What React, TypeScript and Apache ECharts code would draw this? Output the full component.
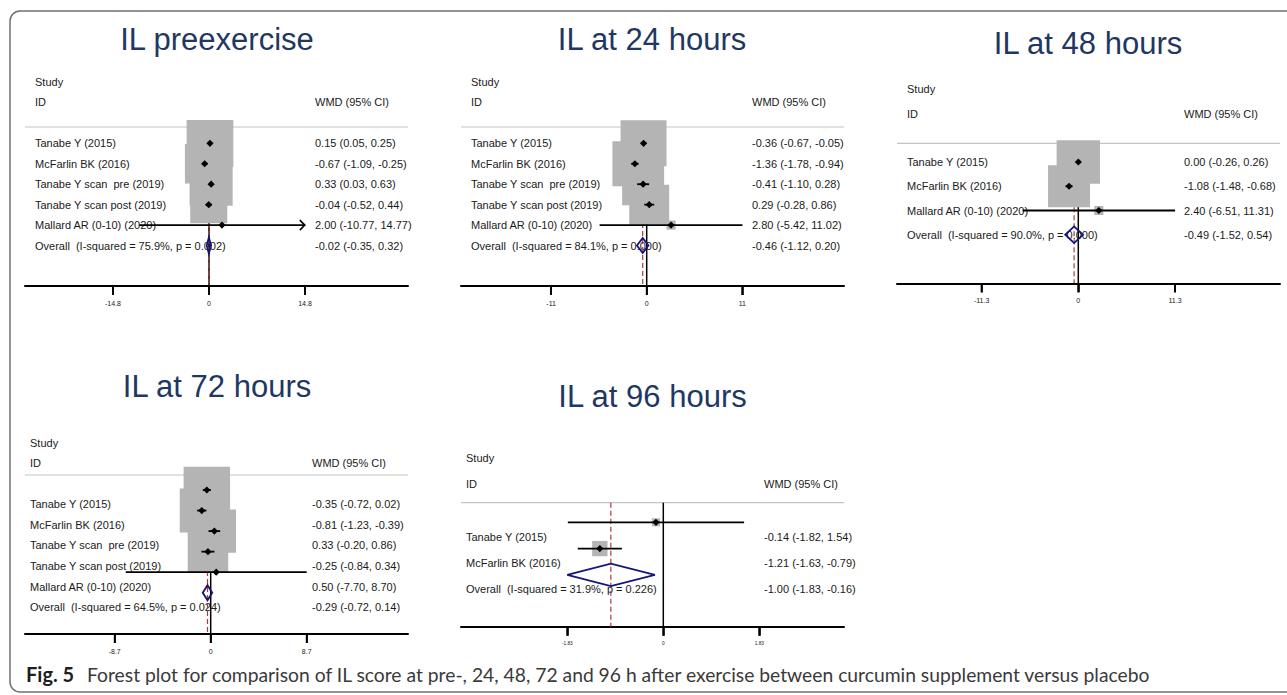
import React, { useEffect, useRef } from "react";
import * as echarts from "echarts";

// ---------- IL preexercise ----------
const preStudies = ["Tanabe Y (2015)", "McFarlin BK (2016)", "Tanabe Y scan  pre (2019)", "Tanabe Y scan post (2019)", "Mallard AR (0-10) (2020)"];
const preEst = [0.15, -0.67, 0.33, -0.04, 2.0];
const preLo = [0.05, -1.09, 0.03, -0.52, -10.77];
const preHi = [0.25, -0.25, 0.63, 0.44, 14.77];
const preWeight = [31.3, 22.3, 26.6, 19.7, 0.1];
const preArrow = [false, false, false, false, true];
const preOverall = [-0.02, -0.35, 0.32];
const preHet = ["75.9", "0.002"];
const preTick = 14.8;

// ---------- IL at 24 hours ----------
const h24Studies = ["Tanabe Y (2015)", "McFarlin BK (2016)", "Tanabe Y scan  pre (2019)", "Tanabe Y scan post (2019)", "Mallard AR (0-10) (2020)"];
const h24Est = [-0.36, -1.36, -0.41, 0.29, 2.8];
const h24Lo = [-0.67, -1.78, -1.1, -0.28, -5.42];
const h24Hi = [-0.05, -0.94, 0.28, 0.86, 11.02];
const h24Weight = [27.9, 26.7, 23.3, 21.1, 1.1];
const h24Arrow = [false, false, false, false, false];
const h24Overall = [-0.46, -1.12, 0.2];
const h24Het = ["84.1", "0.000"];
const h24Tick = 11;

// ---------- IL at 48 hours ----------
const h48Studies = ["Tanabe Y (2015)", "McFarlin BK (2016)", "Mallard AR (0-10) (2020)"];
const h48Est = [0.0, -1.08, 2.4];
const h48Lo = [-0.26, -1.48, -6.51];
const h48Hi = [0.26, -0.68, 11.31];
const h48Weight = [50.5, 47.3, 2.2];
const h48Arrow = [false, false, false];
const h48Overall = [-0.49, -1.52, 0.54];
const h48Het = ["90.0", "0.000"];
const h48Tick = 11.3;

// ---------- IL at 72 hours ----------
const h72Studies = ["Tanabe Y (2015)", "McFarlin BK (2016)", "Tanabe Y scan  pre (2019)", "Tanabe Y scan post (2019)", "Mallard AR (0-10) (2020)"];
const h72Est = [-0.35, -0.81, 0.33, -0.25, 0.5];
const h72Lo = [-0.72, -1.23, -0.2, -0.84, -7.7];
const h72Hi = [0.02, -0.39, 0.86, 0.34, 8.7];
const h72Weight = [28.2, 25.4, 24.7, 21.5, 0.2];
const h72Arrow = [false, false, false, false, false];
const h72Overall = [-0.29, -0.72, 0.14];
const h72Het = ["64.5", "0.024"];
const h72Tick = 8.7;

// ---------- IL at 96 hours ----------
const h96Studies = ["Tanabe Y (2015)", "McFarlin BK (2016)"];
const h96Est = [-0.14, -1.21];
const h96Lo = [-1.82, -1.63];
const h96Hi = [1.54, -0.79];
const h96Weight = [21.5, 78.5];
const h96Arrow = [false, false];
const h96Overall = [-1.0, -1.83, -0.16];
const h96Het = ["31.9", "0.226"];
const h96Tick = 1.83;

const titles = ["IL preexercise", "IL at 24 hours", "IL at 48 hours", "IL at 72 hours", "IL at 96 hours"];
const captionLead = "Fig. 5";
const captionText = "Forest plot for comparison of IL score at pre-, 24, 48, 72 and 96 h after exercise between curcumin supplement versus placebo";

const panels = [
  { studies: preStudies, est: preEst, lo: preLo, hi: preHi, weight: preWeight, arrow: preArrow, overall: preOverall, het: preHet, tick: preTick },
  { studies: h24Studies, est: h24Est, lo: h24Lo, hi: h24Hi, weight: h24Weight, arrow: h24Arrow, overall: h24Overall, het: h24Het, tick: h24Tick },
  { studies: h48Studies, est: h48Est, lo: h48Lo, hi: h48Hi, weight: h48Weight, arrow: h48Arrow, overall: h48Overall, het: h48Het, tick: h48Tick },
  { studies: h72Studies, est: h72Est, lo: h72Lo, hi: h72Hi, weight: h72Weight, arrow: h72Arrow, overall: h72Overall, het: h72Het, tick: h72Tick },
  { studies: h96Studies, est: h96Est, lo: h96Lo, hi: h96Hi, weight: h96Weight, arrow: h96Arrow, overall: h96Overall, het: h96Het, tick: h96Tick },
];

// Page placement of each forest plot (pixels)
const layouts = [
  { titleX: 217, titleY: 39, studyX: 35, wmdX: 315, studyY: 82, idY: 102, sepY: 127, rowTop: 143.3, rowStep: 20.45, labelTop: 143.3, axisY: 286, lineLeft: 25, lineRight: 408, zeroX: 209, tickX: 305, boxScale: 8.35, diamondH: 8, tickFont: 7 },
  { titleX: 652, titleY: 39, studyX: 471, wmdX: 752, studyY: 82, idY: 102, sepY: 127, rowTop: 143.3, rowStep: 20.45, labelTop: 143.3, axisY: 286, lineLeft: 461, lineRight: 844, zeroX: 646.7, tickX: 742.3, boxScale: 8.7, diamondH: 7.5, tickFont: 7 },
  { titleX: 1088, titleY: 43, studyX: 907, wmdX: 1184, studyY: 89.3, idY: 113.7, sepY: 143.3, rowTop: 162, rowStep: 24.25, labelTop: 162, axisY: 283.3, lineLeft: 897, lineRight: 1280, zeroX: 1078.3, tickX: 1175, boxScale: 6.1, diamondH: 8.3, tickFont: 7 },
  { titleX: 217, titleY: 386.5, studyX: 30, wmdX: 312, studyY: 443.3, idY: 463.3, sepY: 475, rowTop: 490, rowStep: 20.55, labelTop: 504.3, axisY: 634, lineLeft: 25, lineRight: 408, zeroX: 210.7, tickX: 306.7, boxScale: 8.74, diamondH: 7.5, tickFont: 7 },
  { titleX: 652.5, titleY: 396, studyX: 466, wmdX: 764, studyY: 458.3, idY: 484.3, sepY: 502.7, rowTop: 522.3, rowStep: 26.3, labelTop: 536.7, axisY: 626.7, lineLeft: 461, lineRight: 844, zeroX: 663.3, tickX: 759.3, boxScale: 1.73, diamondH: 11.2, tickFont: 4.8 },
];

const FONT = "'Liberation Sans', Arial, Helvetica, sans-serif";
const CAPTION_FONT = "Lato, 'Open Sans', sans-serif";
const TITLE_COLOR = "#1f3763";
const BOX_COLOR = "#b4b4b4";
const DIAMOND_COLOR = "#14147a";
const REF_COLOR = "#a83c3c";
const TICK_LEN = 9;
const TICK_W = 1.6;

const fmt = (v: number) => v.toFixed(2);

function txt(x: number, y: number, s: string, z2 = 0, size = 11, color = "#1a1a1a") {
  return {
    type: "text",
    x,
    y,
    z2,
    style: {
      text: s,
      fill: color,
      fontSize: size,
      fontFamily: FONT,
      align: "left",
      verticalAlign: "middle",
      textAlign: "left",
      textVerticalAlign: "middle",
    },
  };
}

function buildPanel(p: any, L: any, idx: number) {
  const n = p.studies.length;
  const scale = (L.tickX - L.zeroX) / p.tick;
  const xMin = (L.lineLeft - L.zeroX) / scale;
  const xMax = (L.lineRight - L.zeroX) / scale;
  const yMin = (L.sepY - L.rowTop) / L.rowStep;
  const yMax = (L.axisY - L.rowTop) / L.rowStep;
  const labelOff = (L.labelTop - L.rowTop) / L.rowStep;
  const studyRow = (L.studyY - L.rowTop) / L.rowStep;
  const idRow = (L.idY - L.rowTop) / L.rowStep;

  const grid = { left: L.lineLeft, top: L.sepY, width: L.lineRight - L.lineLeft, height: L.axisY - L.sepY };
  const ticks = [-p.tick, 0, p.tick];
  const xAxis = {
    type: "value",
    gridIndex: idx,
    min: xMin,
    max: xMax,
    splitLine: { show: false },
    axisLine: { show: true, onZero: false, lineStyle: { color: "#000", width: 2 } },
    axisTick: { show: true, customValues: ticks, length: TICK_LEN, lineStyle: { color: "#000", width: TICK_W } },
    axisLabel: {
      customValues: ticks,
      fontSize: L.tickFont,
      fontFamily: FONT,
      color: "#1a1a1a",
      margin: 14,
      formatter: (v: number) => String(v),
    },
  };
  const yAxis = { type: "value", gridIndex: idx, min: yMin, max: yMax, inverse: true, show: false };

  const data: number[][] = [];
  for (let k = 0; k <= n + 1; k++) data.push([k, k]);

  const renderItem = (params: any, api: any) => {
    const k = api.value(0);
    const cs = params.coordSys;
    const xOf = (v: number) => api.coord([v, 0])[0];
    const yOf = (r: number) => api.coord([0, r])[1];
    const children: any[] = [];

    if (k === n + 1) {
      // headers, separator, null line and pooled-estimate reference line
      children.push(txt(L.studyX, yOf(studyRow), "Study"));
      children.push(txt(L.studyX, yOf(idRow), "ID"));
      children.push(txt(L.wmdX, yOf(idRow), "WMD (95% CI)"));
      children.push({
        type: "line", z2: 1,
        shape: { x1: cs.x, y1: cs.y, x2: cs.x + cs.width, y2: cs.y },
        style: { stroke: "#c4c4c4", lineWidth: 1.2 },
      });
      const yb = cs.y + cs.height;
      const x0 = xOf(0);
      children.push({
        type: "line", z2: 2,
        shape: { x1: x0, y1: cs.y, x2: x0, y2: yb },
        style: { stroke: "#000", lineWidth: 1.5 },
      });
      const xr = xOf(p.overall[0]);
      children.push({
        type: "line", z2: 2,
        shape: { x1: xr, y1: cs.y, x2: xr, y2: yb },
        style: { stroke: REF_COLOR, lineWidth: 1.2, lineDash: [5, 3] },
      });
      // tick marks under the axis line
      ticks.forEach((t) => {
        const xt = xOf(t);
        children.push({
          type: "rect", z2: 7,
          shape: { x: xt - TICK_W / 2, y: yb, width: TICK_W, height: TICK_LEN },
          style: { fill: "#000" },
        });
      });
      return { type: "group", children };
    }

    if (k === n) {
      const [e, lo, hi] = p.overall;
      const ly = yOf(k + labelOff);
      children.push(txt(L.studyX, ly, `Overall  (I-squared = ${p.het[0]}%, p = ${p.het[1]})`));
      children.push(txt(L.wmdX, ly, `${fmt(e)} (${fmt(lo)}, ${fmt(hi)})`));
      const cy = yOf(k);
      const h = L.diamondH;
      children.push({
        type: "polygon", z2: 6,
        shape: { points: [[xOf(lo), cy], [xOf(e), cy - h], [xOf(hi), cy], [xOf(e), cy + h]] },
        style: { fill: "none", stroke: DIAMOND_COLOR, lineWidth: 1.8 },
      });
      return { type: "group", children };
    }

    const e = p.est[k];
    const lo = p.lo[k];
    const hi = p.hi[k];
    const ly = yOf(k + labelOff);
    children.push(txt(L.studyX, ly, p.studies[k]));
    children.push(txt(L.wmdX, ly, `${fmt(e)} (${fmt(lo)}, ${fmt(hi)})`));

    const cx = xOf(e);
    const cy = yOf(k);
    const s = L.boxScale * Math.sqrt(p.weight[k]);
    children.push({
      type: "rect", z2: 3,
      shape: { x: cx - s / 2, y: cy - s / 2, width: s, height: s },
      style: { fill: BOX_COLOR },
    });
    const xl = xOf(lo);
    const xh = xOf(hi);
    children.push({
      type: "line", z2: 4,
      shape: { x1: xl, y1: cy, x2: xh, y2: cy },
      style: { stroke: "#000", lineWidth: 1.8 },
    });
    if (p.arrow[k]) {
      children.push({
        type: "polyline", z2: 4,
        shape: { points: [[xh - 5, cy - 5], [xh, cy], [xh - 5, cy + 5]] },
        style: { stroke: "#000", lineWidth: 1.6, fill: "none" },
      });
    }
    const m = 3.6;
    children.push({
      type: "polygon", z2: 5,
      shape: { points: [[cx - m, cy], [cx, cy - m], [cx + m, cy], [cx, cy + m]] },
      style: { fill: "#000" },
    });
    return { type: "group", children };
  };

  const series = {
    type: "custom",
    xAxisIndex: idx,
    yAxisIndex: idx,
    silent: true,
    clip: false,
    data,
    renderItem,
  };
  return { grid, xAxis, yAxis, series, ticks, yMax };
}

export default function App() {
  const ref = useRef<HTMLDivElement>(null);

  useEffect(() => {
    if (!ref.current) return;
    const chart = echarts.init(ref.current, undefined, { renderer: "svg" });
    const built = panels.map((p, i) => buildPanel(p, layouts[i], i));

    const graphic: any[] = [
      {
        id: "frame",
        type: "rect",
        z: -1,
        shape: { x: 10, y: 11, width: 1300, height: 681, r: 10 },
        style: { fill: "none", stroke: "#707070", lineWidth: 1.5 },
        silent: true,
      },
      ...titles.map((t, i) => ({
        id: "title" + i,
        type: "text",
        x: layouts[i].titleX,
        y: layouts[i].titleY,
        style: {
          text: t,
          fill: TITLE_COLOR,
          fontSize: 31,
          fontFamily: FONT,
          align: "center",
          verticalAlign: "middle",
          textAlign: "center",
          textVerticalAlign: "middle",
        },
      })),
      {
        id: "capLead",
        type: "text",
        x: 26,
        y: 674,
        style: {
          text: captionLead,
          fill: "#1e1e1e",
          fontSize: 20,
          fontWeight: "bold",
          fontFamily: CAPTION_FONT,
          verticalAlign: "middle",
          textVerticalAlign: "middle",
        },
      },
      {
        id: "capText",
        type: "text",
        x: 87,
        y: 674,
        style: {
          text: captionText,
          fill: "#3a3a3a",
          fontSize: 19.3,
          fontFamily: CAPTION_FONT,
          verticalAlign: "middle",
          textVerticalAlign: "middle",
        },
      },
    ];

    chart.setOption({
      animation: false,
      backgroundColor: "#ffffff",
      grid: built.map((b) => b.grid),
      xAxis: built.map((b) => b.xAxis),
      yAxis: built.map((b) => b.yAxis),
      series: built.map((b) => b.series),
      graphic,
    });

    // tick marks placed through each grid's own scale, drawn above everything else
    const tickMarks: any[] = [];
    built.forEach((b, i) => {
      b.ticks.forEach((t: number, j: number) => {
        const pt = chart.convertToPixel({ gridIndex: i } as any, [t, b.yMax]) as number[];
        if (!pt) return;
        tickMarks.push({
          id: `tick-${i}-${j}`,
          type: "rect",
          z: 100,
          silent: true,
          shape: { x: pt[0] - TICK_W / 2, y: pt[1], width: TICK_W, height: TICK_LEN },
          style: { fill: "#000" },
        });
      });
    });
    chart.setOption({ graphic: [...graphic, ...tickMarks] });

    return () => chart.dispose();
  }, []);

  return (
    <div
      ref={ref}
      style={{ position: "fixed", left: 0, top: 0, width: 1287, height: 695, background: "#fff" }}
    />
  );
}
